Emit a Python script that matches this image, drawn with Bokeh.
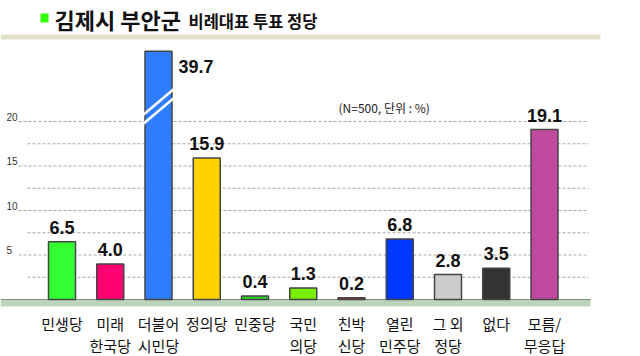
from bokeh.plotting import figure
from bokeh.models import Range1d, ColumnDataSource
from bokeh.core.properties import value
from bokeh.embed import file_html
from bokeh.resources import INLINE

# ---------------- data ----------------
categories = ["민생당", "미래\n한국당", "더불어\n시민당", "정의당", "민중당", "국민\n의당",
              "친박\n신당", "열린\n민주당", "그 외\n정당", "없다", "모름/\n무응답"]
values = [6.5, 4.0, 39.7, 15.9, 0.4, 1.3, 0.2, 6.8, 2.8, 3.5, 19.1]
value_labels = ["6.5", "4.0", "39.7", "15.9", "0.4", "1.3", "0.2", "6.8", "2.8", "3.5", "19.1"]
colors = ["#33ff33", "#ff0070", "#2f7cff", "#ffd200", "#2ed42e", "#77ee00",
          "#e82020", "#0038ff", "#cccccc", "#333333", "#c04a9e"]
grid_values = [2.5, 5, 7.5, 10, 12.5, 15, 17.5, 20]
tick_values = [5, 10, 15, 20]
tick_labels = ["5", "10", "15", "20"]
title_main = "김제시 부안군"
title_sub = "비례대표 투표 정당"
note = "(N=500, 단위 : %)"

# ---------------- layout ----------------
W, H = 640, 356
X0, STEP = 61.5, 48.25      # pixel centre of first category, spacing
BASE, PPU = 299, 8.9        # baseline pixel row, pixels per percentage point
CAP = 27.9                  # display height of the broken (clipped) bar

xs = -X0 / STEP
xe = xs + W / STEP
ye = BASE / PPU
ys = ye - H / PPU


def X(px):
    return xs + px / STEP


def Y(py):
    return ye - py / PPU


p = figure(width=W, height=H, output_backend="svg", toolbar_location=None,
           x_range=Range1d(xs, xe), y_range=Range1d(ys, ye), min_border=0,
           background_fill_color="white", border_fill_color="white")
p.xaxis.visible = False
p.yaxis.visible = False
p.grid.visible = False
p.outline_line_color = None

KR = value("Noto Sans CJK KR")
NUM = value("Liberation Sans")

# title decorations
p.quad(left=[X(40)], right=[X(48)], top=[Y(13)], bottom=[Y(22)],
       fill_color="#33ff00", line_color=None)
p.quad(left=[X(0)], right=[X(600)], top=[Y(34)], bottom=[Y(39)],
       fill_color="#e3e3cd", line_color=None)
p.text(x=[X(54)], y=[Y(18)], text=[title_main], text_font=KR, text_font_style="bold",
       text_font_size="22px", text_baseline="middle", text_align="left", text_color="#111111")
p.text(x=[X(188)], y=[Y(20)], text=[title_sub], text_font=KR, text_font_style="bold",
       text_font_size="16.5px", text_baseline="middle", text_align="left", text_color="#111111")

# grid lines
g_x0 = [X(18) if v in tick_values else X(27) for v in grid_values]
g_x1 = [X(588)] * len(grid_values)
p.segment(x0=g_x0, y0=grid_values, x1=g_x1, y1=grid_values,
          line_color="#a8a8a8", line_width=1, line_dash="3 2")
p.text(x=[X(6)] * len(tick_values), y=tick_values, text=tick_labels,
       y_offset=-5, text_font=value("Liberation Sans"), text_font_size="10px",
       text_baseline="middle", text_align="left", text_color="#333333")

# note
p.text(x=[X(338)], y=[Y(107)], text=[note], text_font=KR, text_font_size="12px",
       text_baseline="middle", text_align="left", text_color="#222222")

# floor band
p.quad(left=[X(0)], right=[X(590)], top=[0], bottom=[Y(306)],
       fill_color="#bcd3bc", line_color=None)
p.segment(x0=[X(0)], y0=[0], x1=[X(590)], y1=[0], line_color="#7d8f7d", line_width=1)

# bars
idx = list(range(len(categories)))
disp = [min(v, CAP) for v in values]
src = ColumnDataSource(dict(x=idx, top=disp, color=colors, label=value_labels))
p.vbar(x="x", top="top", bottom=0, width=27 / STEP, fill_color="color",
       line_color="#444444", line_width=1.5, source=src)

# break marks on clipped bars
for i, v in enumerate(values):
    if v > CAP:
        p.segment(x0=[i - 16 / STEP, i - 16 / STEP], y0=[Y(115), Y(124)],
                  x1=[i + 16 / STEP, i + 16 / STEP], y1=[Y(88), Y(97)],
                  line_color="white", line_width=2.5)

# value labels
norm = [i for i, v in enumerate(values) if v <= CAP]
clip = [i for i, v in enumerate(values) if v > CAP]
p.text(x=norm, y=[disp[i] for i in norm], text=[value_labels[i] for i in norm],
       y_offset=-8, text_font=NUM, text_font_style="bold", text_font_size="18px",
       text_baseline="bottom", text_align="center", text_color="#111111")
p.text(x=clip, y=[disp[i] for i in clip], text=[value_labels[i] for i in clip],
       x_offset=20, y_offset=22, text_font=NUM, text_font_style="bold", text_font_size="18px",
       text_baseline="bottom", text_align="left", text_color="#111111")

# category labels (two lines)
line1 = [c.split("\n")[0] for c in categories]
line2 = [c.split("\n")[1] if "\n" in c else "" for c in categories]
p.text(x=idx, y=[Y(312)] * len(idx), text=line1, text_font=KR, text_font_size="15px",
       text_baseline="top", text_align="center", text_color="#111111")
p.text(x=idx, y=[Y(334)] * len(idx), text=line2, text_font=KR, text_font_size="15px",
       text_baseline="top", text_align="center", text_color="#111111")

open("out.html", "w").write(file_html(p, INLINE))
